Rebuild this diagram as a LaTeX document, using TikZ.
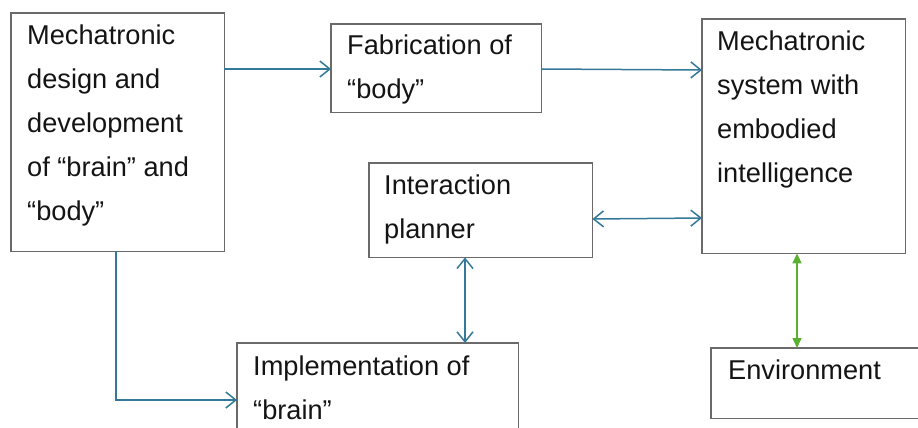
\documentclass[tikz,border=0pt]{standalone}
\usepackage{fontspec}
\setmainfont{Liberation Sans}
\usetikzlibrary{arrows.meta}
\definecolor{flowblue}{HTML}{34789A}
\definecolor{envgreen}{HTML}{5AB031}
\definecolor{boxgray}{HTML}{6A6A6A}
\begin{document}
\begin{tikzpicture}[x=1pt,y=-1pt,
  box/.style={draw=boxgray,line width=1.4pt,fill=none},
  frame/.style={inner sep=0pt,anchor=north west},
  txt/.style={anchor=base west,inner sep=0pt,align=left,text=black!92,
    font=\fontsize{27.2}{44}\selectfont},
  flow/.style={draw=flowblue,line width=1.5pt,-{Straight Barb[length=10pt,width=16pt,line width=1.5pt]}},
  flow2/.style={draw=flowblue,line width=1.5pt,{Straight Barb[length=10pt,width=16pt,line width=1.5pt]}-{Straight Barb[length=10pt,width=16pt,line width=1.5pt]}},
  envlink/.style={draw=envgreen,line width=1.5pt,{Triangle[length=10pt,width=9pt]}-{Triangle[length=10pt,width=9pt]}}]
\useasboundingbox (0,0) rectangle (918,428);
\clip (0,0) rectangle (918,428);

% boxes
\node[frame,minimum width=213pt,minimum height=238pt] (design) at (11,13) {};
\node[frame,minimum width=210pt,minimum height=88pt] (fab) at (331,24) {};
\node[frame,minimum width=203pt,minimum height=234pt] (sys) at (702,19) {};
\node[frame,minimum width=223pt,minimum height=94pt] (plan) at (369,163) {};
\node[frame,minimum width=281pt,minimum height=110pt] (impl) at (237,343) {};
\node[frame,minimum width=220pt,minimum height=70pt] (env) at (711,348) {};
\foreach \n in {design,fab,sys,plan,impl,env}
  \draw[box] (\n.north west) rectangle (\n.south east);

% labels (anchored at the baseline of the last line)
\node[txt] (designText) at (27,220) {Mechatronic\\design and\\development\\of “brain” and\\“body”};
\node[txt] (fabText) at (347,99) {Fabrication of\\“body”};
\node[txt] (sysText) at (717,182) {Mechatronic\\system with\\embodied\\intelligence};
\node[txt] (planText) at (384,238) {Interaction\\planner};
\node[txt] (implText) at (253,419) {Implementation of\\“brain”};
\node[txt] (envText) at (728,379) {Environment};

% connectors
\draw[flow] (design.east |- 0,69) -- (fab.west |- 0,69);
\draw[flow] (fab.east |- 0,69) -- (sys.west |- 0,70);
\draw[flow2] (plan.east |- 0,219) -- (sys.west |- 0,218);
\draw[flow2] (plan.south -| 465,0) -- (impl.north -| 465,0);
\draw[flow] (design.south -| 116,0) -- (116,400) -- (impl.west |- 0,400);
\draw[envlink] (sys.south -| 797,0) -- (env.north -| 797,0);
\end{tikzpicture}
\end{document}
